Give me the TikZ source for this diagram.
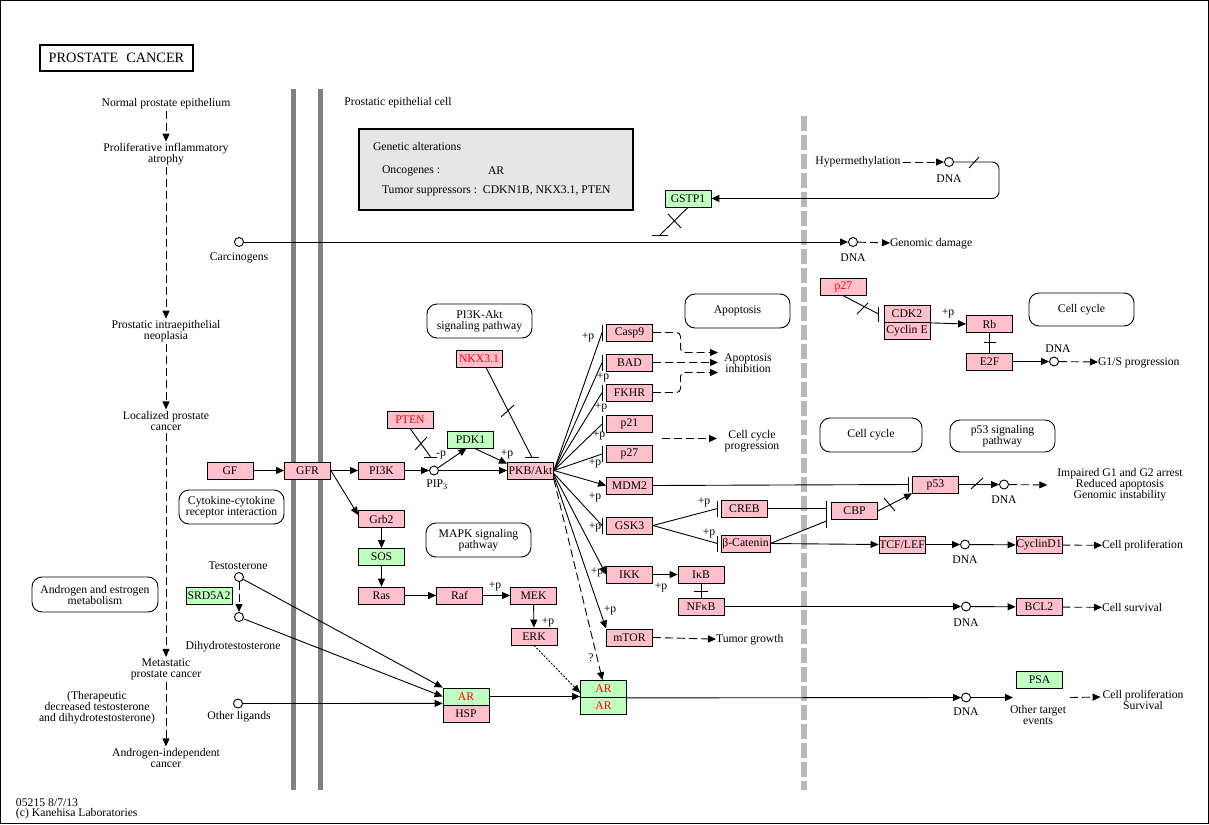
\documentclass[tikz,border=0pt]{standalone}
\usepackage{fontspec}
\setmainfont{Liberation Serif}
\usetikzlibrary{arrows.meta}
\definecolor{kpink}{RGB}{255,192,203}
\definecolor{kgreen}{RGB}{191,255,191}
\definecolor{kred}{RGB}{255,0,0}
\definecolor{wallgray}{RGB}{128,128,128}
\definecolor{dashgray}{RGB}{185,185,185}
\definecolor{boxgray}{RGB}{230,230,230}
\tikzset{
 gene/.style={draw, fill=kpink, minimum width=46pt, minimum height=17pt, inner sep=0pt, line width=0.8pt},
 ggene/.style={gene, fill=kgreen},
 redt/.style={text=kred},
 txt/.style={inner sep=0pt, outer sep=2pt, align=center},
 ltxt/.style={inner sep=0pt, outer sep=0pt, anchor=west},
 circ/.style={circle, draw, fill=white, minimum size=9pt, inner sep=0pt, line width=0.9pt},
 pw/.style={draw, rounded corners=10pt, align=center, inner sep=0pt, line width=0.9pt},
 arr/.style={-{Triangle[length=8pt,width=7pt]}},
 dsh/.style={dash pattern=on 8pt off 4pt},
 fdot/.style={dash pattern=on 2pt off 1.5pt},
 plab/.style={inner sep=0pt},
}
\begin{document}
\begin{tikzpicture}[x=1pt,y=-1pt,font=\fontsize{11.7}{11}\selectfont,line width=0.9pt]
\path[use as bounding box] (0,0) rectangle (1209,824);
\draw[line width=1pt] (0.5,0.5) rectangle (1208.5,823.5);

% walls
\fill[wallgray] (291,89) rectangle (296,790);
\fill[wallgray] (318,89) rectangle (323,790);
\draw[dashgray, line width=6pt, dash pattern=on 15pt off 4pt] (804,116) -- (804,790);

% title
\node[draw, line width=2.5pt, minimum width=153pt, minimum height=26pt, inner sep=0pt, font=\fontsize{14.3}{14}\selectfont] (title) at (116.5,58) {PROSTATE\hspace{8pt}CANCER};

% left column stages
\node[txt] (n1) at (166,104) {Normal prostate epithelium};
\node[txt] (n2) at (166,154.5) {Proliferative inflammatory\\atrophy};
\node[txt] (n3) at (166,331.5) {Prostatic intraepithelial\\neoplasia};
\node[txt] (n4) at (166,421) {Localized prostate\\cancer};
\node[txt] (n5) at (166,669.5) {Metastatic\\prostate cancer};
\node[txt] (n6) at (166,758) {Androgen-independent\\cancer};
\node[txt] (ther) at (97,708) {(Therapeutic\\decreased testosterone\\and dihydrotestosterone)};
\draw[dsh,arr] (n1) -- (n2);
\draw[dsh,arr] (n2) -- (n3);
\draw[dsh,arr] (n3) -- (n4);
\draw[dsh,arr] (n4) -- (n5);
\draw[dsh,arr] (n5) -- (n6);

\node[txt] (pec) at (398,103) {Prostatic epithelial cell};

% genetic alterations
\node[draw, line width=2.5pt, fill=boxgray, minimum width=274pt, minimum height=81pt, inner sep=0pt] (gabox) at (496,169.5) {};
\node[ltxt] (ga1) at (373,146) {Genetic alterations};
\node[ltxt] (ga2) at (382,171) {Oncogenes :};
\node[ltxt] (ga3) at (488,171) {AR};
\node[ltxt] (ga4) at (382,191) {Tumor suppressors :\ \ CDKN1B, NKX3.1, PTEN};

% carcinogens / hypermethylation
\node[ggene] (GSTP1) at (688,198.5) {GSTP1};
\node[circ] (carc) at (239,242) {};
\node[txt] (carcl) at (239,258) {Carcinogens};
\node[circ] (dna1) at (853,242) {};
\node[txt] (dna1l) at (853,258) {DNA};
\node[ltxt] (gd) at (890,244) {Genomic damage};
\draw[arr] (carc) -- (dna1);
\draw[dsh,arr] (dna1) -- (gd);
\node[txt] (hyp) at (858,162) {Hypermethylation};
\node[circ] (dna2) at (949,162) {};
\node[txt] (dna2l) at (949,179) {DNA};
\draw[dsh,arr] (hyp) -- (dna2);
\draw[arr, rounded corners=7pt] (dna2.east) -- (999,162) -- (999,198.5) -- (GSTP1.east);
\draw (969,168) -- (979,157);
\coordinate (gbar) at (660,235);
\draw (GSTP1.south) -- (gbar);
\draw (652,235) -- (668,235);
\draw (668,214) -- (681,228);

% pathway boxes
\node[pw, minimum width=105pt, minimum height=34pt] (pwpi3k) at (479.5,321) {PI3K-Akt\\signaling pathway};
\node[pw, minimum width=105pt, minimum height=34pt] (pwapo) at (737.5,311) {Apoptosis};
\node[pw, minimum width=105pt, minimum height=33pt] (pwcc1) at (1081.5,309.5) {Cell cycle};
\node[pw, minimum width=102pt, minimum height=34pt] (pwcc2) at (871,435) {Cell cycle};
\node[pw, minimum width=105pt, minimum height=32pt] (pwp53) at (1002.5,436) {p53 signaling\\pathway};
\node[pw, minimum width=105pt, minimum height=34pt] (pwcyt) at (231.5,507) {Cytokine-cytokine\\receptor interaction};
\node[pw, minimum width=105pt, minimum height=34pt] (pwmapk) at (478.5,540) {MAPK signaling\\pathway};
\node[pw, minimum width=126pt, minimum height=35pt] (pwandro) at (95,594.5) {Androgen and estrogen\\metabolism};

% genes: PI3K-Akt
\node[gene] (GF) at (230,470.5) {GF};
\node[gene] (GFR) at (307.5,470.5) {GFR};
\node[gene] (PI3K) at (381.5,470.5) {PI3K};
\node[gene] (PKB) at (530.5,470.5) {PKB/Akt};
\node[gene, redt] (PTEN) at (410,419.5) {PTEN};
\node[ggene] (PDK1) at (470.5,439.5) {PDK1};
\node[gene, redt] (NKX) at (479,358.5) {NKX3.1};
\node[circ] (pip) at (434,470.5) {};
\node[txt] (pipl) at (437,485) {PIP\textsubscript{3}};

\node[gene] (Casp9) at (629.5,332.5) {Casp9};
\node[gene] (BAD) at (629.5,362.5) {BAD};
\node[gene] (FKHR) at (629.5,392.5) {FKHR};
\node[gene] (p21) at (629.5,424) {p21};
\node[gene] (p27a) at (629.5,454) {p27};
\node[gene] (MDM2) at (629.5,485.5) {MDM2};
\node[gene] (GSK3) at (629.5,525.5) {GSK3};
\node[gene] (IKK) at (629.5,574.5) {IKK};
\node[gene] (mTOR) at (629.5,637.5) {mTOR};

% MAPK
\node[gene] (Grb2) at (381.5,519) {Grb2};
\node[ggene] (SOS) at (381.5,557) {SOS};
\node[gene] (Ras) at (381.5,595.5) {Ras};
\node[gene] (Raf) at (459.5,595.5) {Raf};
\node[gene] (MEK) at (533.5,595.5) {MEK};
\node[gene] (ERK) at (534,636.5) {ERK};

% AR
\node[ggene, redt] (ARh) at (466,696.5) {AR};
\node[gene] (HSP) at (466,713.5) {HSP};
\node[ggene, redt] (ARa1) at (603.5,689) {AR};
\node[ggene, redt] (ARa2) at (603.5,706) {AR};

% right side
\node[gene] (IkB) at (701,574.5) {IκB};
\node[gene] (NFkB) at (701,606.5) {NFκB};
\node[gene] (CREB) at (744.5,508.5) {CREB};
\node[gene, minimum width=49pt] (bcat) at (745.5,543.5) {β-Catenin};
\node[gene] (CBP) at (854.5,511) {CBP};
\node[gene] (p53) at (935.5,484.5) {p53};
\node[gene] (TCF) at (902,544.5) {TCF/LEF};
\node[gene] (CycD1) at (1039,545) {CyclinD1};
\node[gene] (BCL2) at (1039,607) {BCL2};
\node[gene, redt] (p27b) at (843.5,287) {p27};
\node[gene] (CDK2) at (907,314) {CDK2};
\node[gene] (CycE) at (907,330.5) {Cyclin E};
\node[gene] (Rb) at (989.5,324) {Rb};
\node[gene] (E2F) at (989.5,361.5) {E2F};
\node[ggene] (PSA) at (1039.5,680) {PSA};
\node[ggene] (SRD) at (209,595.5) {SRD5A2};

% DNA circles
\node[circ] (dnap53) at (1004,484.5) {};
\node[txt] (dnap53l) at (1004,500) {DNA};
\node[circ] (dnatcf) at (965,544.5) {};
\node[txt] (dnatcfl) at (965,560) {DNA};
\node[circ] (dnanf) at (966,606.5) {};
\node[txt] (dnanfl) at (966,623) {DNA};
\node[circ] (dnaar) at (966,697.5) {};
\node[txt] (dnaarl) at (966,712) {DNA};
\node[circ] (dnae2f) at (1054,361.5) {};
\node[txt] (dnae2fl) at (1058,349) {DNA};

% outcome texts
\node[txt] (apoinh) at (748,363.5) {Apoptosis\\inhibition};
\node[txt] (ccprog) at (752,441.5) {Cell cycle\\progression};
\node[ltxt] (tumorg) at (716,640) {Tumor growth};
\node[txt] (impaired) at (1120,485) {Impaired G1 and G2 arrest\\Reduced apoptosis\\Genomic instability};
\node[ltxt] (cellprol1) at (1102,545.5) {Cell proliferation};
\node[ltxt] (cellsurv) at (1102,607.5) {Cell survival};
\node[ltxt] (g1s) at (1098,362.5) {G1/S progression};
\node[txt] (othert) at (1038,714.5) {Other target\\events};
\node[txt] (cellprol2) at (1143,700) {Cell proliferation\\Survival};

% ligands
\node[txt] (testo) at (238,566) {Testosterone};
\node[circ] (tcirc) at (239,577) {};
\node[circ] (dcirc) at (239,617) {};
\node[txt] (dihydro) at (233,647) {Dihydrotestosterone};
\node[circ] (ocirc) at (238,703.5) {};
\node[txt] (otherlig) at (239,717) {Other ligands};

% footer
\node[ltxt] (foot1) at (16,803) {05215 8/7/13};
\node[ltxt] (foot2) at (16,814) {(c) Kanehisa Laboratories};

% ---- edges: PI3K-Akt
\draw[arr] (GF) -- (GFR);
\draw[arr] (GFR) -- (PI3K);
\draw[arr] (PI3K) -- (pip);
\draw[arr] (pip) -- (PKB);
\draw[arr] (pip) -- ([xshift=-4pt]PDK1.south);
\draw[arr] ([xshift=4pt]PDK1.south) -- ([yshift=-2pt]PKB.north west);
\node[plab] (pplus0) at (507,454) {+p};
\coordinate (ptenbar) at (431,457.5);
\draw (PTEN.south) -- (ptenbar);
\draw (424,457.5) -- (437,457.5);
\draw (415,450) -- (427,437);
\node[plab] (pminus) at (441,455) {-p};
\coordinate (nkbar) at (532,457.5);
\draw ([xshift=7pt]NKX.south) -- (nkbar);
\draw (525,457.5) -- (539,457.5);
\draw (501,417) -- (514,405);

% fan from PKB
\foreach \g in {Casp9,BAD,FKHR,p21,p27a}{
 \draw (PKB.east) -- ([xshift=-4pt]\g.west);
 \draw ([xshift=-4pt,yshift=8pt]\g.west) -- ([xshift=-4pt,yshift=-8pt]\g.west);
}
\draw[arr] (PKB.east) -- (MDM2.west);
\draw ([yshift=-3pt]PKB.east) -- ([xshift=-4pt]GSK3.west);
\draw ([xshift=-4pt,yshift=8pt]GSK3.west) -- ([xshift=-4pt,yshift=-8pt]GSK3.west);
\draw[arr] ([yshift=-4pt]PKB.east) -- (IKK.west);
\draw[arr] ([yshift=-6pt]PKB.east) -- (mTOR.north west);
\draw[dsh,arr] (PKB.south east) -- ([xshift=-1pt]ARa1.north);
\node[plab] (q) at (591,658) {?};
\node[plab] (pp1) at (588,337) {+p};
\node[plab] (pp2) at (603,377) {+p};
\node[plab] (pp3) at (601,407) {+p};
\node[plab] (pp4) at (599,435) {+p};
\node[plab] (pp5) at (595,463) {+p};
\node[plab] (pp6) at (595,497) {+p};
\node[plab] (pp7) at (595,527) {+p};
\node[plab] (pp8) at (597,572) {+p};
\node[plab] (pp9) at (610,610) {+p};

% apoptosis outputs
\coordinate (ai1) at (718,352.5);
\coordinate (ai2) at (718,362.5);
\coordinate (ai3) at (718,372.5);
\draw[dsh,arr,rounded corners=4pt] (Casp9.east) -- (680.5,332.5) -- (680.5,352.5) -- (ai1);
\draw[dsh,arr] (BAD.east) -- (ai2);
\draw[dsh,arr,rounded corners=4pt] (FKHR.east) -- (680.5,392.5) -- (680.5,372.5) -- (ai3);
\coordinate (ccs) at (662,438.5);
\coordinate (cct) at (717,438.5);
\draw[dsh,arr] (ccs) -- (cct);
\draw[dsh,arr] (mTOR.east) -- (tumorg);

% MDM2 / p53
\coordinate (p53bar) at (908.5,484.5);
\draw (MDM2.east) -- (p53bar);
\draw (908.5,477) -- (908.5,492);
\draw[arr] (p53.east) -- (dnap53.west);
\draw (971,489) -- (983,478);
\draw[dsh,arr] (dnap53) -- ([xshift=-8pt]impaired.west);

% GSK3 / CREB / beta-catenin
\coordinate (crebbar) at (717.5,508.5);
\coordinate (bcatbar) at (717.5,543.5);
\draw (GSK3.east) -- (crebbar);
\draw (717.5,500.5) -- (717.5,516.5);
\draw (GSK3.east) -- (bcatbar);
\draw (717.5,535.5) -- (717.5,551.5);
\node[plab] (pc1) at (704,502) {+p};
\node[plab] (pc2) at (709,533) {+p};
\coordinate (cbpbar1) at (826.5,508.5);
\coordinate (cbpbar2) at (826.5,521);
\draw (CREB.east) -- (cbpbar1);
\draw (bcat.east) -- (cbpbar2);
\draw (826.5,501) -- (826.5,528);
\draw[arr] (CBP.east) -- (p53.south west);
\draw (884,498) -- (895,511);
\draw[arr] (bcat.east) -- (TCF.west);
\draw[arr] (TCF) -- (dnatcf);
\draw[arr] (dnatcf) -- (CycD1);
\draw[dsh,arr] (CycD1) -- (cellprol1);

% IKK / NFkB
\draw[arr] (IKK) -- (IkB);
\node[plab] (pik) at (661,587) {+p};
\draw (IkB.south) -- (NFkB.north);
\draw (694,591) -- (708,591);
\draw[arr] (NFkB) -- (dnanf);
\draw[arr] (dnanf) -- (BCL2);
\draw[dsh,arr] (BCL2) -- (cellsurv);

% cell cycle (top right)
\coordinate (cdkbar) at (878.5,314);
\draw (p27b.south) -- (cdkbar);
\draw (878.5,307) -- (878.5,322);
\draw (857,314) -- (868,303);
\draw[arr] (CDK2.south east) -- (Rb.west);
\node[plab] (pcdk) at (948,313) {+p};
\draw (Rb.south) -- (E2F.north);
\draw (984,342.5) -- (996,342.5);
\draw[arr] (E2F) -- (dnae2f);
\draw[dsh,arr] (dnae2f) -- (g1s);

% MAPK edges
\draw[arr] (GFR.east) -- ([yshift=4pt]Grb2.west);
\draw[arr] (Grb2) -- (SOS);
\draw[arr] (SOS) -- (Ras);
\draw[arr] (Ras) -- (Raf);
\draw[arr] (Raf) -- (MEK);
\node[plab] (prm) at (495,586) {+p};
\draw[arr] (MEK) -- (ERK);
\node[plab] (pme) at (548,622) {+p};
\draw[fdot,arr] (ERK.south) -- ([yshift=5pt]ARa1.south west);

% androgen edges
\draw[dsh,arr] (tcirc) -- (dcirc);
\draw[arr] (tcirc) -- (ARh.north west);
\draw[arr] (dcirc) -- (ARh.west);
\draw[arr] (ocirc) -- ([yshift=2pt]ARh.south west);
\draw[arr] (ARh.east) -- (ARh.east -| ARa1.west);
\draw[arr] (ARa1.south east) -- (dnaar);
\coordinate (otip) at (1013,697.5);
\draw[arr] (dnaar) -- (otip);
\coordinate (cps) at (1070,697.5);
\draw[dsh,arr] (cps) -- ([yshift=3pt]cellprol2.west);
\end{tikzpicture}
\end{document}
